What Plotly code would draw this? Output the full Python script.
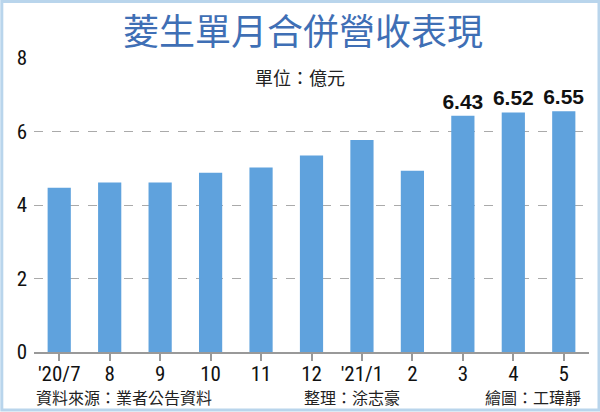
import plotly.graph_objects as go

months = ["'20/7", "8", "9", "10", "11", "12", "'21/1", "2", "3", "4", "5"]
revenue = [4.47, 4.61, 4.61, 4.88, 5.02, 5.35, 5.77, 4.93, 6.43, 6.52, 6.55]
labeled = [False] * 8 + [True] * 3
y_ticks = [0, 2, 4, 6, 8]

title_text = "菱生單月合併營收表現"
unit_text = "單位：億元"
source_text = "資料來源：業者公告資料"
editor_text = "整理：涂志豪"
artist_text = "繪圖：工瑋靜"

bar_labels = [f"{v:.2f}" if s else "" for v, s in zip(revenue, labeled)]

num_font = "Liberation Sans Narrow, Roboto Condensed, Arial Narrow, Liberation Sans, sans-serif"
cjk_font = "Noto Sans CJK TC, Noto Sans CJK SC, sans-serif"

fig = go.Figure()
fig.add_trace(go.Bar(
    x=list(range(len(months))), y=revenue,
    marker=dict(color="#5fa2dd", line=dict(width=0)),
    text=bar_labels, textposition="outside", cliponaxis=False, constraintext="none",
    textfont=dict(family="Liberation Sans, Arial, sans-serif", size=21, color="#111111", weight="bold"),
    hoverinfo="skip",
))

fig.update_layout(
    width=600, height=412,
    margin=dict(l=34, r=11, t=58, b=60),
    paper_bgcolor="white", plot_bgcolor="white",
    showlegend=False, bargap=0.54,
    font=dict(family=num_font, color="#111111"),
    xaxis=dict(
        tickmode="array", tickvals=list(range(len(months))), ticktext=months,
        range=[-0.5, len(months) - 0.5],
        showline=True, linecolor="#999999", linewidth=1.5,
        ticks="outside", ticklen=7, tickcolor="#999999", tickwidth=1.5,
        tickfont=dict(family=num_font, size=21, color="#111111"),
        ticklabelstandoff=-5,
        showgrid=False, zeroline=False,
    ),
    yaxis=dict(
        range=[0, 8], tickvals=y_ticks,
        showgrid=True, gridcolor="#aaaaaa", griddash="dash", gridwidth=1,
        tickfont=dict(family=num_font, size=21, color="#111111"),
        showline=False, zeroline=False, ticks="", ticklabelstandoff=6,
    ),
    shapes=[dict(type="rect", xref="paper", yref="paper", x0=-0.058, x1=1.018,
                 y0=-0.197, y1=1.192, line=dict(color="#b9d5ec", width=3),
                 fillcolor="rgba(0,0,0,0)", layer="below")],
)

fig.add_annotation(text=title_text, xref="paper", yref="paper", x=0.485, y=1.195,
                   yanchor="top", showarrow=False,
                   font=dict(family=cjk_font, size=36, color="#3f6fb5"))
fig.add_annotation(text=unit_text, xref="paper", yref="paper", x=0.48, y=0.935,
                   yanchor="middle", showarrow=False,
                   font=dict(family=cjk_font, size=18, color="#222222"))
fig.add_annotation(text=source_text, xref="paper", yref="paper", x=0.0, y=-0.153,
                   xanchor="left", yanchor="middle", showarrow=False,
                   font=dict(family=cjk_font, size=16, color="#222222"))
fig.add_annotation(text=editor_text, xref="paper", yref="paper", x=0.483, y=-0.153,
                   xanchor="left", yanchor="middle", showarrow=False,
                   font=dict(family=cjk_font, size=16, color="#222222"))
fig.add_annotation(text=artist_text, xref="paper", yref="paper", x=0.989, y=-0.153,
                   xanchor="right", yanchor="middle", showarrow=False,
                   font=dict(family=cjk_font, size=16, color="#222222"))

fig.write_html("out.html", config={"displayModeBar": False},
               post_script="document.body.style.margin='0';document.body.style.overflow='hidden';")
